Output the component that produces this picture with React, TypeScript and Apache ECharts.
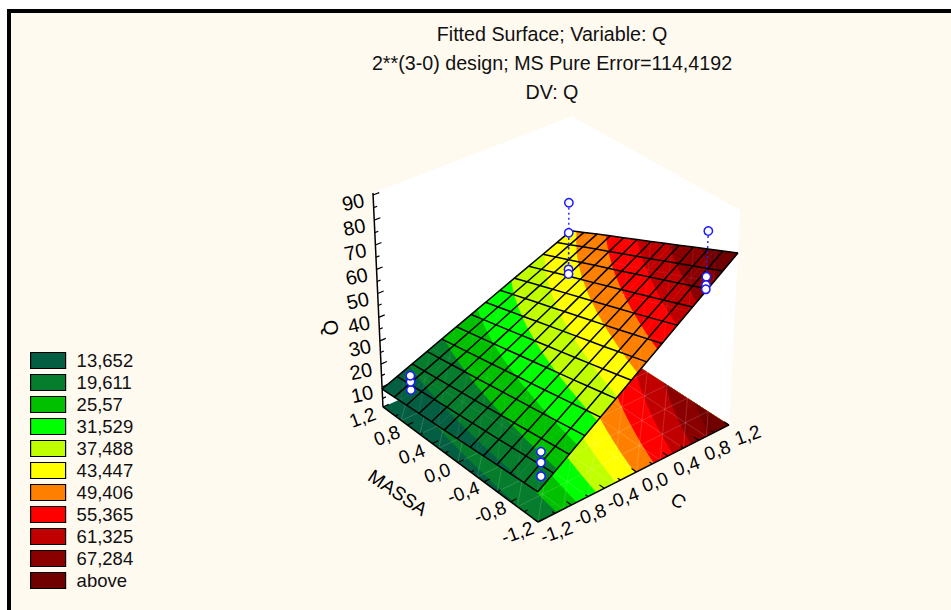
import React, { useEffect, useRef } from "react";
import * as echarts from "echarts";

// ---- data ----
const titleLines = ["Fitted Surface; Variable: Q", "2**(3-0) design; MS Pure Error=114,4192", "DV: Q"];
const bandLabels = ["13,652", "19,611", "25,57", "31,529", "37,488", "43,447", "49,406", "55,365", "61,325", "67,284", "above"];
const bandLimits = [13.652, 19.611, 25.57, 31.529, 37.488, 43.447, 49.406, 55.365, 61.325, 67.284];
const bandColors = ["#045f42", "#067d2c", "#00c000", "#00ff00", "#c0ff00", "#ffff00", "#ff8000", "#ff0000", "#c00000", "#8a0000", "#700000"];

const cNodes = [-1.2, -0.6, 0, 0.6, 1.2];
const massaNodes = [-1.2, -0.6, 0, 0.6, 1.2];
const qAtMassaM12 = [14.0, 29.0, 43.9, 58.9, 73.8];
const qAtMassaM06 = [12.8, 26.0, 39.2, 52.5, 65.9];
const qAtMassa00 = [11.5, 23.1, 34.7, 46.3, 58.0];
const qAtMassaP06 = [10.3, 20.2, 30.2, 40.2, 50.2];
const qAtMassaP12 = [9.1, 17.4, 25.7, 34.0, 42.3];
const qRows = [qAtMassaM12, qAtMassaM06, qAtMassa00, qAtMassaP06, qAtMassaP12];

const obsC = [-1, -1, -1, -1, -1, -1, 1, 1, 1, 1, 1, 1, 1, 1];
const obsMassa = [1, 1, 1, -1, -1, -1, 1, 1, 1, 1, -1, -1, -1, -1];
const obsQ = [9.3, 12.9, 15.6, 12.8, 18.6, 23.1, 60.4, 47.6, 31.6, 29.6, 82.0, 63.6, 60.2, 58.4];

const axisTicksC = [-1.2, -0.8, -0.4, 0, 0.4, 0.8, 1.2];
const axisLabelsC = ["-1,2", "-0,8", "-0,4", "0,0", "0,4", "0,8", "1,2"];
const axisMinorC = [-1.0, -0.6, -0.2, 0.2, 0.6, 1.0];
const axisTicksM = [-1.2, -0.8, -0.4, 0, 0.4, 0.8, 1.2];
const axisLabelsM = ["-1,2", "-0,8", "-0,4", "0,0", "0,4", "0,8", "1,2"];
const axisMinorM = [-1.0, -0.6, -0.2, 0.2, 0.6, 1.0];
const axisTicksQ = [10, 20, 30, 40, 50, 60, 70, 80, 90];
const axisMinorQ = [5, 15, 25, 35, 45, 55, 65, 75, 85];

// ---- 3D scale: axis ranges and the camera ----
const C_MIN = -1.2, C_MAX = 1.2, M_MIN = -1.2, M_MAX = 1.2, Q_MIN = 1.18, Q_MAX = 90.8;
const ORIGIN = [538, 522];
const VP_C = [3757, -1113], VP_M = [-1773, -1193], VP_Q = [548, 3934];
const W_C = 0.0631, W_M = 0.0719, W_Q = -0.0613;
const GRID_CELLS_C = 13, GRID_CELLS_M = 12;
const MESH_CELLS = 8;
const FONT = '"Liberation Sans", Arial, sans-serif';

function uvt(c: number, m: number, q: number) {
  return [(c - C_MIN) / (C_MAX - C_MIN), (m - M_MIN) / (M_MAX - M_MIN), (q - Q_MIN) / (Q_MAX - Q_MIN)];
}
function project(c: number, m: number, q: number) {
  const [u, v, t] = uvt(c, m, q);
  const w = 1 + W_C * u + W_M * v + W_Q * t;
  return [
    (ORIGIN[0] + W_C * VP_C[0] * u + W_M * VP_M[0] * v + W_Q * VP_Q[0] * t) / w,
    (ORIGIN[1] + W_C * VP_C[1] * u + W_M * VP_M[1] * v + W_Q * VP_Q[1] * t) / w,
  ];
}
function rowAt(m: number) {
  let i = 0;
  while (i < massaNodes.length - 2 && m > massaNodes[i + 1]) i++;
  const f = (m - massaNodes[i]) / (massaNodes[i + 1] - massaNodes[i]);
  return cNodes.map((_, j) => qRows[i][j] + (qRows[i + 1][j] - qRows[i][j]) * f);
}
function qAt(c: number, m: number) {
  const row = rowAt(m);
  let j = 0;
  while (j < cNodes.length - 2 && c > cNodes[j + 1]) j++;
  const f = (c - cNodes[j]) / (cNodes[j + 1] - cNodes[j]);
  return row[j] + (row[j + 1] - row[j]) * f;
}
function crossing(m: number, level: number) {
  const row = rowAt(m);
  if (level <= row[0]) return C_MIN;
  for (let j = 0; j < row.length - 1; j++) {
    if (level <= row[j + 1]) return cNodes[j] + ((level - row[j]) / (row[j + 1] - row[j])) * (cNodes[j + 1] - cNodes[j]);
  }
  return C_MAX;
}
function sampleM(n: number) {
  return Array.from({ length: n + 1 }, (_, i) => M_MIN + ((M_MAX - M_MIN) * i) / n);
}
function bandRegion(k: number) {
  // all of the rectangle where Q is above the lower limit of band k; later bands are painted over it
  if (k === 0) return [[C_MIN, M_MIN], [C_MIN, M_MAX], [C_MAX, M_MAX], [C_MAX, M_MIN]];
  const edge = sampleM(60).map((m) => [crossing(m, bandLimits[k - 1]), m]);
  return [...edge, [C_MAX, M_MAX], [C_MAX, M_MIN]];
}

function App() {
  const ref = useRef<HTMLDivElement>(null);
  useEffect(() => {
    const chart = echarts.init(ref.current!, undefined, { renderer: "svg" });

    const toPx = (api: any, p: number[]) => api.coord(p);
    const custom = (name: string | undefined, data: any[], renderItem: any, color?: string) => ({
      type: "custom",
      name,
      coordinateSystem: "cartesian2d",
      silent: true,
      clip: false,
      itemStyle: color ? { color } : undefined,
      data,
      renderItem,
    });
    const line = (api: any, pts: number[][], stroke: string, lineWidth: number, lineDash?: number[]) => ({
      type: "polyline",
      shape: { points: pts.map((p) => toPx(api, p)) },
      style: { stroke, lineWidth, fill: "none", lineDash },
    });
    const label = (api: any, p: number[], text: string, rotationDeg: number, size: number) => {
      const [x, y] = toPx(api, p);
      return {
        type: "text",
        x,
        y,
        rotation: (rotationDeg * Math.PI) / 180,
        style: { text, font: `${size}px ${FONT}`, fill: "#000", align: "center", verticalAlign: "middle" },
      };
    };

    const walls = custom(undefined, [[0]], (_: any, api: any) => ({
      type: "polygon",
      shape: {
        points: [
          project(C_MIN, M_MAX, Q_MIN), project(C_MIN, M_MAX, Q_MAX), project(C_MAX, M_MAX, Q_MAX),
          project(C_MAX, M_MIN, Q_MAX), project(C_MAX, M_MIN, Q_MIN), project(C_MAX, M_MAX, Q_MIN),
        ].map((p) => toPx(api, p)),
      },
      style: { fill: "#ffffff" },
    }));

    const floorBands = bandLabels.map((name, k) =>
      custom(name, [[k]], (_: any, api: any) => ({
        type: "polygon",
        shape: { points: bandRegion(k).map(([c, m]) => toPx(api, project(c, m, Q_MIN))) },
        style: { fill: bandColors[k] },
      }), bandColors[k])
    );
    const surfaceBands = bandLabels.map((name, k) =>
      custom(name, [[k]], (_: any, api: any) => ({
        type: "polygon",
        shape: { points: bandRegion(k).map(([c, m]) => toPx(api, project(c, m, qAt(c, m)))) },
        style: { fill: bandColors[k] },
      }), bandColors[k])
    );

    // faint triangular mesh of the floor and of the surface
    const meshLines = (height: (c: number, m: number) => number) => {
      const out: number[][][] = [];
      const dc = (C_MAX - C_MIN) / MESH_CELLS, dm = (M_MAX - M_MIN) / MESH_CELLS;
      for (let i = 0; i <= MESH_CELLS; i++) {
        const c = C_MIN + i * dc, m = M_MIN + i * dm;
        out.push([[c, M_MIN], [c, M_MAX]]);
        out.push([[C_MIN, m], [C_MAX, m]]);
      }
      for (let d = -MESH_CELLS + 1; d < MESH_CELLS; d++) {
        const i0 = Math.max(0, d), i1 = Math.min(MESH_CELLS, MESH_CELLS + d);
        out.push([[C_MIN + i0 * dc, M_MIN + (i0 - d) * dm], [C_MIN + i1 * dc, M_MIN + (i1 - d) * dm]]);
      }
      return out.map(([a, b]) => {
        const pts: number[][] = [];
        for (let s = 0; s <= 8; s++) {
          const c = a[0] + ((b[0] - a[0]) * s) / 8, m = a[1] + ((b[1] - a[1]) * s) / 8;
          pts.push(project(c, m, height(c, m)));
        }
        return pts;
      });
    };
    const floorMesh = custom(undefined, [[0]], (_: any, api: any) => ({
      type: "group",
      children: meshLines(() => Q_MIN).map((pts) => line(api, pts, "rgba(255,255,255,0.2)", 0.8)),
    }));
    const surfaceMesh = custom(undefined, [[0]], (_: any, api: any) => ({
      type: "group",
      children: meshLines(qAt).map((pts) => line(api, pts, "rgba(255,255,255,0.09)", 0.8)),
    }));

    const surfaceGrid = custom(undefined, [[0]], (_: any, api: any) => {
      const children: any[] = [];
      for (let i = 0; i <= GRID_CELLS_C; i++) {
        const c = C_MIN + ((C_MAX - C_MIN) * i) / GRID_CELLS_C;
        children.push(line(api, sampleM(12).map((m) => project(c, m, qAt(c, m))), "#000", 1.5));
      }
      for (let i = 0; i <= GRID_CELLS_M; i++) {
        const m = M_MIN + ((M_MAX - M_MIN) * i) / GRID_CELLS_M;
        const pts = Array.from({ length: 13 }, (_x, s) => {
          const c = C_MIN + ((C_MAX - C_MIN) * s) / 12;
          return project(c, m, qAt(c, m));
        });
        children.push(line(api, pts, "#000", 1.5));
      }
      return { type: "group", children };
    });

    const axes = custom(undefined, [[0]], (_: any, api: any) => {
      const children: any[] = [
        line(api, [project(C_MIN, M_MIN, Q_MIN), project(C_MAX, M_MIN, Q_MIN)], "#000", 1.5),
        line(api, [project(C_MIN, M_MIN, Q_MIN), project(C_MIN, M_MAX, Q_MIN)], "#000", 1.5),
        line(api, [project(C_MIN, M_MAX, Q_MIN), project(C_MIN, M_MAX, Q_MAX)], "#000", 1.5),
      ];
      const tickC = (c: number, len: number) => line(api, [project(c, M_MIN, Q_MIN), project(c, M_MIN + len, Q_MIN)], "#000", 1.2);
      const tickM = (m: number, len: number) => line(api, [project(C_MIN, m, Q_MIN), project(C_MIN + len, m, Q_MIN)], "#000", 1.2);
      const tickQ = (q: number, len: number) => line(api, [project(C_MIN, M_MAX, q), project(C_MIN + len, M_MAX, q)], "#000", 1.2);
      axisTicksC.forEach((c, i) => {
        children.push(tickC(c, 0.07));
        const p = project(c, M_MIN, Q_MIN);
        children.push(label(api, [p[0] + 18.5, p[1] + 10], axisLabelsC[i], 20, 19));
      });
      axisMinorC.forEach((c) => children.push(tickC(c, 0.04)));
      axisTicksM.forEach((m, i) => {
        children.push(tickM(m, 0.07));
        const p = project(C_MIN, m, Q_MIN);
        children.push(label(api, [p[0] - 20.5, p[1] + 10.5], axisLabelsM[i], 20, 19));
      });
      axisMinorM.forEach((m) => children.push(tickM(m, 0.04)));
      axisTicksQ.forEach((q) => {
        children.push(tickQ(q, 0.07));
        const p = project(C_MIN, M_MAX, q);
        children.push(label(api, [p[0] - 20, p[1] + 7], String(q), 12, 20));
      });
      axisMinorQ.forEach((q) => children.push(tickQ(q, 0.04)));
      const mid = (C_MIN + C_MAX) / 2;
      const pc = project(mid + 0.1, M_MIN, Q_MIN);
      children.push(label(api, [pc[0] + 34, pc[1] + 33], "C", -35, 19));
      const pm = project(C_MIN, (M_MIN + M_MAX) / 2 + 0.25, Q_MIN);
      children.push(label(api, [pm[0] - 44, pm[1] + 42], "MASSA", -34, 19));
      const pq = project(C_MIN, M_MAX, (Q_MIN + Q_MAX) / 2 - 7);
      children.push(label(api, [pq[0] - 48, pq[1] + 8], "Q", -80, 20));
      return { type: "group", children };
    });

    const obsData = obsQ.map((q, i) => [obsC[i], obsMassa[i], q]);
    const points = custom(undefined, obsData, (_: any, api: any) => {
      const [x, y] = toPx(api, project(api.value(0), api.value(1), api.value(2)));
      return { type: "circle", shape: { cx: x, cy: y, r: 4.2 }, style: { fill: "#fff", stroke: "#1a1aff", lineWidth: 1.5 } };
    });
    const stems = custom(undefined, obsData, (_: any, api: any) => {
      const c = api.value(0), m = api.value(1), q = api.value(2);
      return line(api, [project(c, m, q), project(c, m, qAt(c, m))], "#2020ff", 1.4, [2, 3]);
    });

    chart.setOption({
      animation: false,
      backgroundColor: "#ffffff",
      title: titleLines.map((text, i) => ({
        text,
        left: 552,
        top: 24 + i * 29,
        textAlign: "center",
        textStyle: { fontFamily: FONT, fontSize: 19.7, fontWeight: "normal", color: "#111" },
        padding: 0,
      })),
      legend: {
        orient: "vertical",
        left: 30,
        top: 351,
        padding: 0,
        icon: "rect",
        itemWidth: 35,
        itemHeight: 16,
        itemGap: 3,
        selectedMode: false,
        itemStyle: { borderColor: "#000", borderWidth: 1.2 },
        textStyle: { fontFamily: FONT, fontSize: 18.5, color: "#111", lineHeight: 16, padding: [0, 0, 0, 6] },
        data: bandLabels,
      },
      grid: { left: 0, right: 0, top: 0, bottom: 0 },
      xAxis: { type: "value", min: 0, max: 951, show: false },
      yAxis: { type: "value", min: 0, max: 610, inverse: true, show: false },
      graphic: [
        { type: "rect", z: -10, shape: { x: 7, y: 9, width: 944, height: 601 }, style: { fill: "#fffaf0" } },
        { type: "rect", z: -9, shape: { x: 7, y: 9, width: 4, height: 601 }, style: { fill: "#000" } },
        { type: "rect", z: -9, shape: { x: 7, y: 9, width: 944, height: 4 }, style: { fill: "#000" } },
      ],
      series: [walls, ...floorBands, floorMesh, axes, ...surfaceBands, surfaceMesh, surfaceGrid, stems, points],
    });
    return () => chart.dispose();
  }, []);
  return <div ref={ref} style={{ position: "absolute", left: 0, top: 0, width: 951, height: 610 }} />;
}

export default App;
